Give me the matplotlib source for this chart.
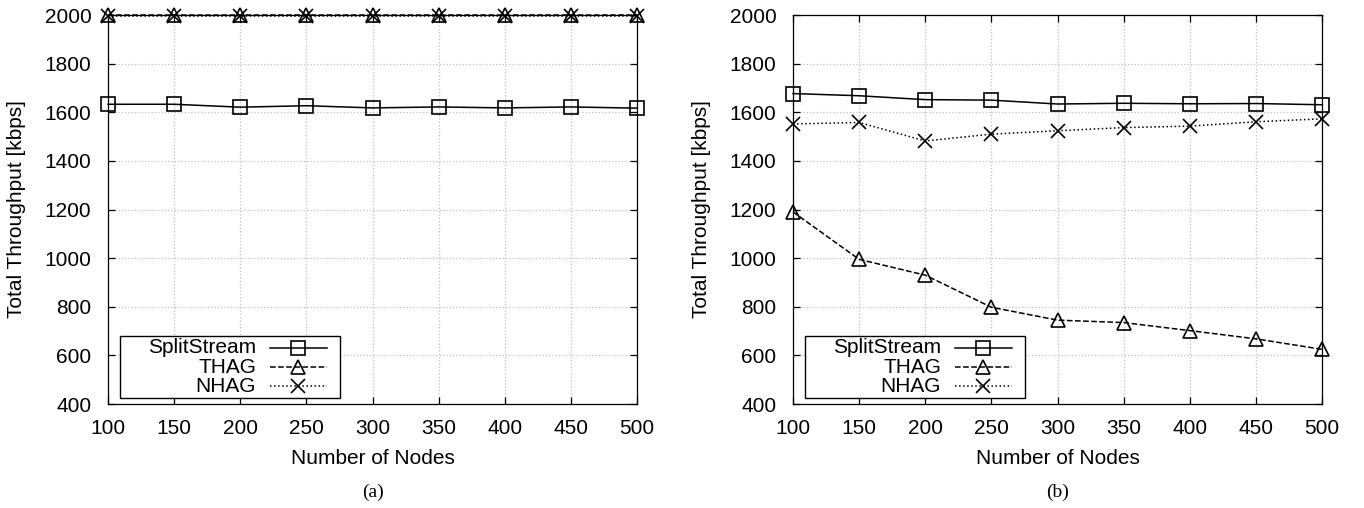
import matplotlib
matplotlib.use("Agg")
import matplotlib.pyplot as plt
from matplotlib.lines import Line2D
from matplotlib.patches import Rectangle

plt.rcParams['font.family'] = ['Liberation Sans', 'DejaVu Sans']

# Data
nodes = [100, 150, 200, 250, 300, 350, 400, 450, 500]

# (a)
split_a = [1633, 1633, 1621, 1627, 1618, 1622, 1618, 1622, 1617]
thag_a = [2000, 2000, 2000, 2000, 2000, 2000, 2000, 2000, 2000]
nhag_a = [1995, 1995, 1995, 1995, 1995, 1995, 1995, 1995, 1995]

# (b)
split_b = [1677, 1668, 1652, 1650, 1634, 1637, 1635, 1636, 1631]
thag_b = [1190, 995, 930, 798, 745, 735, 702, 668, 625]
nhag_b = [1552, 1558, 1482, 1510, 1524, 1537, 1543, 1561, 1573]

labels = ['SplitStream', 'THAG', 'NHAG']
styles = [('-', 's'), ('--', '^'), (':', 'x')]
captions = ['(a)', '(b)']

fig = plt.figure(figsize=(13.64, 5.08), dpi=100)
ax_a = fig.add_axes([0.0792, 0.2047, 0.3878, 0.7657])
ax_b = fig.add_axes([0.5814, 0.2047, 0.3878, 0.7657])


def draw_legend(ax):
    box = Rectangle((0.0227, 0.0154), 0.4159, 0.1594, transform=ax.transAxes,
                    facecolor='white', edgecolor='black', linewidth=1.0, zorder=5)
    ax.add_patch(box)
    rows = [0.1447, 0.0943, 0.0463]
    for y, lab, (ls, mk) in zip(rows, labels, styles):
        ax.text(0.2798, y, lab, transform=ax.transAxes, ha='right', va='center',
                fontsize=15, zorder=6)
        ax.add_line(Line2D([0.306, 0.4134], [y, y], transform=ax.transAxes,
                           color='black', linestyle=ls, linewidth=1.1, zorder=6))
        ax.add_line(Line2D([0.36], [y], transform=ax.transAxes, marker=mk,
                           markersize=10, markerfacecolor='none',
                           markeredgecolor='black', markeredgewidth=1.2,
                           linestyle='none', zorder=6, clip_on=False))


panels = [(ax_a, split_a, thag_a, nhag_a), (ax_b, split_b, thag_b, nhag_b)]
for i, (ax, s, t, n) in enumerate(panels):
    for ys, (ls, mk) in zip([s, t, n], styles):
        ax.plot(nodes, ys, color='black', linestyle=ls, linewidth=1.1,
                marker=mk, markersize=10, markerfacecolor='none',
                markeredgewidth=1.2, clip_on=False, zorder=3)
    ax.set_xlim(100, 500)
    ax.set_ylim(400, 2000)
    ax.set_xticks(nodes)
    ax.set_yticks(range(400, 2001, 200))
    ax.grid(True, color='#c0c0c0', linestyle=':', linewidth=0.9)
    ax.tick_params(direction='in', length=5, width=0.9, top=True, right=True,
                   labelsize=15)
    ax.tick_params(axis='y', pad=12)
    ax.tick_params(axis='x', pad=11)
    for sp in ax.spines.values():
        sp.set_linewidth(0.9)
    ax.set_xlabel('Number of Nodes', fontsize=15, labelpad=8)
    ax.set_ylabel('Total Throughput [kbps]', fontsize=15, labelpad=13)
    draw_legend(ax)
    ax.text(0.5, -0.228, captions[i], transform=ax.transAxes, ha='center',
            va='center', fontsize=14, family=['Liberation Serif', 'DejaVu Serif'])

fig.savefig('out.png', dpi=100)
